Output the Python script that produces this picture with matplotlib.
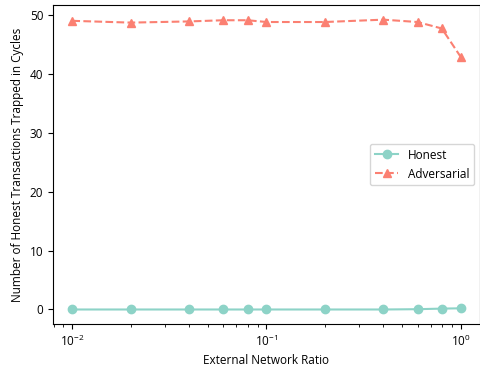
import numpy as np
import matplotlib
matplotlib.use('Agg')
import matplotlib.pyplot as plt

plt.rcParams['font.family'] = ['Open Sans', 'DejaVu Sans']
plt.rcParams['font.size'] = 8.5

# external network ratio
ratios = [0.01, 0.02, 0.04, 0.06, 0.08, 0.1, 0.2, 0.4, 0.6, 0.8, 1.0]
honest = [0, 0, 0, 0, 0, 0, 0, 0, 0.05, 0.15, 0.2]
adversarial = [49.0, 48.7, 48.9, 49.1, 49.1, 48.8, 48.8, 49.2, 48.8, 47.7, 42.9]

fig = plt.figure(figsize=(4.81, 3.69), dpi=100)
ax = fig.add_axes([0.110, 0.122, 0.888, 0.864])

ax.plot(ratios, honest, '-o', color='#8dd3c7', label='Honest', markersize=6)
ax.plot(ratios, adversarial, '--^', color='#fb8072', label='Adversarial', markersize=6)
ax.set_xscale('log')
ax.set_xlabel('External Network Ratio')
ax.set_ylabel('Number of Honest Transactions Trapped in Cycles')
ax.legend(loc='center right')

plt.savefig('out.png')
